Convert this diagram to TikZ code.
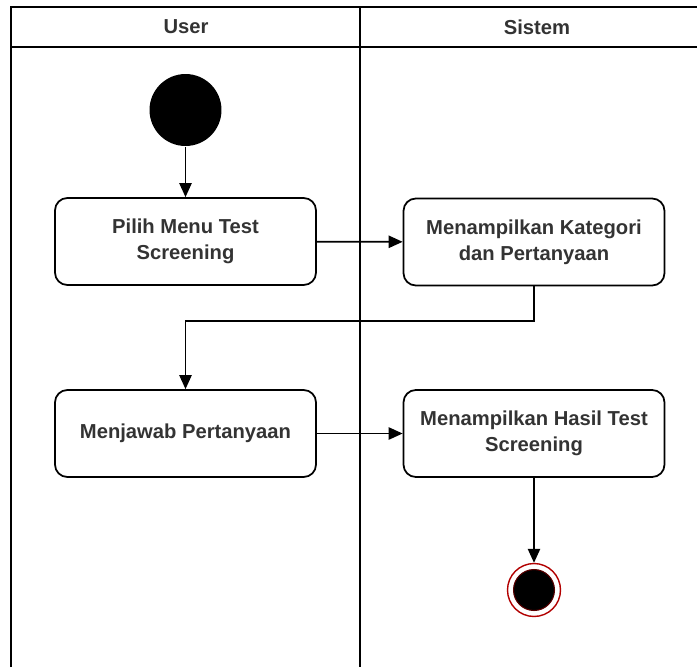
\documentclass[tikz,border=0pt]{standalone}
\usepackage{fontspec}
\setmainfont{Liberation Sans}
\usetikzlibrary{graphs,arrows.meta,calc}

\begin{document}
\begin{tikzpicture}[x=0.02cm, y=-0.02cm, line width=1pt,
		font=\fontsize{11.5}{15}\selectfont\bfseries,
		act/.style={draw, rounded corners=7pt, minimum width=5.22cm, minimum height=1.74cm, align=center, text=black!80},
		flow/.style={draw, line width=1pt, -{Triangle[length=8pt,width=7pt]}},
		mulaidot/.style={circle, fill=black, minimum size=1.44cm, inner sep=0pt},
		akhirring/.style={circle, draw=red!70!black, line width=0.8pt, fill=white, minimum size=1.06cm, inner sep=0pt},
		akhirdot/.style={circle, fill=black, draw=red!35!black, line width=0.6pt, minimum size=0.82cm, inner sep=0pt}]
	\useasboundingbox (0,0) rectangle (697,667);
	% swimlanes
	\draw (11,667) -- (11,7) -- (697,7);
	\draw (11,47) -- (697,47);
	\draw (360,7) -- (360,667);
	\node[text=black!80] (user) at (186,27) {User};
	\node[text=black!80] (sistem) at (537,27) {Sistem};
	% activities
	\node[mulaidot] (mulai) at (185.5,110) {};
	\node[act] (pilih) at (185.5,241.5) {Pilih Menu Test\\Screening};
	\node[act] (kategori) at (534,242) {Menampilkan Kategori\\dan Pertanyaan};
	\node[act] (jawab) at (185.5,433.5) {Menjawab Pertanyaan};
	\node[act] (hasil) at (534,433.5) {Menampilkan Hasil Test\\Screening};
	\node[akhirring] (akhir) at (534,590) {};
	\node[akhirdot] (akhirdot) at (akhir) {};
	\graph [use existing nodes, edges={flow}] {
		mulai -> pilih -> kategori;
		jawab -> hasil -> akhir
	};
	\draw[flow] (kategori.south) -- ++(0,35) -| (jawab.north);
\end{tikzpicture}
\end{document}
